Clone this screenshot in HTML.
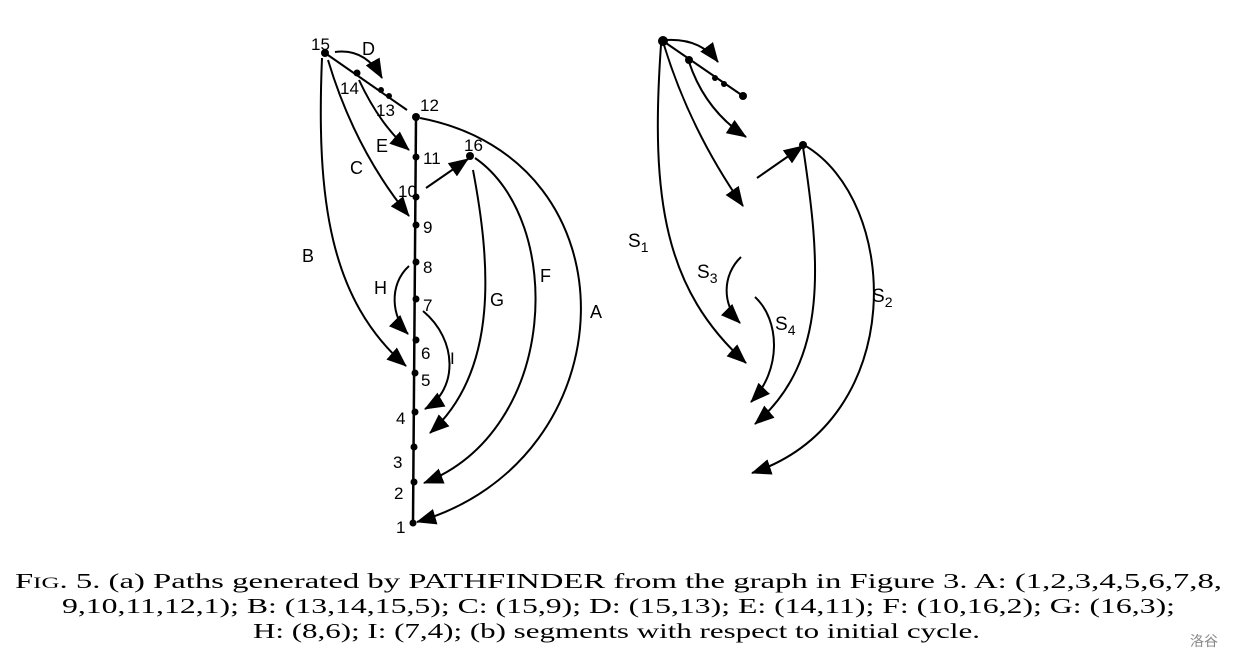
<!DOCTYPE html>
<html><head><meta charset="utf-8"><style>
html,body{margin:0;padding:0;background:#fff;}
svg{display:block;}
text{font-family:"Liberation Sans",sans-serif;}
.cap text{font-family:"Liberation Serif",serif;font-size:21px;}
</style></head><body>
<svg width="1236" height="668" viewBox="0 0 1236 668" xmlns="http://www.w3.org/2000/svg">
<defs>
<marker id="ah" markerUnits="userSpaceOnUse" markerWidth="21" markerHeight="16" refX="19" refY="8" orient="auto">
<path d="M0,0 L20,8 L0,16 Z" fill="#000"/></marker>
</defs>
<g stroke="#000" stroke-width="2" fill="none">
<line x1="416" y1="117" x2="413" y2="523" stroke-width="2.5"/>
<line x1="407" y1="110" x2="325" y2="53"/>
<path d="M335,52 Q365,48 382,78" marker-end="url(#ah)"/>
<path d="M359,80 Q380,125 409,150" marker-end="url(#ah)"/>
<path d="M328,60 Q355,150 409,216" marker-end="url(#ah)"/>
<path d="M322,58 C316,200 330,300 406,366" marker-end="url(#ah)"/>
<path d="M420,118 C640,160 630,460 417,522" marker-end="url(#ah)"/>
<path d="M475,158 C565,220 560,430 424,483" marker-end="url(#ah)"/>
<path d="M473,170 C490,260 500,370 430,433" marker-end="url(#ah)"/>
<path d="M426,188 L468,159" marker-end="url(#ah)"/>
<path d="M409,266 C388,285 392,318 408,334" marker-end="url(#ah)"/>
<path d="M423,311 C458,340 458,390 425,409" marker-end="url(#ah)"/>

<line x1="663" y1="41" x2="743" y2="96"/>
<path d="M666,40 Q700,38 718,62" marker-end="url(#ah)"/>
<path d="M689,62 Q705,110 746,137" marker-end="url(#ah)"/>
<path d="M664,45 Q690,130 743,206" marker-end="url(#ah)"/>
<path d="M661,45 C650,200 665,290 746,363" marker-end="url(#ah)"/>
<path d="M757,178 L803,146" marker-end="url(#ah)"/>
<path d="M803,147 C820,260 830,360 755,424" marker-end="url(#ah)"/>
<path d="M804,145 C900,200 910,420 752,473" marker-end="url(#ah)"/>
<path d="M755,297 C780,320 782,370 751,402" marker-end="url(#ah)"/>
<path d="M741,257 C722,275 722,305 740,323" marker-end="url(#ah)"/>
</g>
<g fill="#000">
<circle cx="325" cy="53" r="4"/><circle cx="357" cy="73" r="3.5"/><circle cx="381" cy="90" r="3"/><circle cx="389" cy="96" r="3"/>
<circle cx="416" cy="117" r="4"/><circle cx="416" cy="157" r="3.5"/><circle cx="416" cy="197" r="3.5"/><circle cx="416" cy="225" r="3.5"/>
<circle cx="416" cy="262" r="3.5"/><circle cx="416" cy="299" r="3.5"/><circle cx="416" cy="340" r="3.5"/><circle cx="415" cy="373" r="3.5"/>
<circle cx="415" cy="412" r="3.5"/><circle cx="414" cy="447" r="3.5"/><circle cx="414" cy="482" r="3.5"/><circle cx="413" cy="523" r="3.5"/>
<circle cx="470" cy="156" r="4"/>
<circle cx="663" cy="41" r="5"/><circle cx="689" cy="60" r="4"/><circle cx="715" cy="78" r="3"/><circle cx="724" cy="84" r="3"/><circle cx="743" cy="96" r="4"/>
<circle cx="803" cy="145" r="4"/>
</g>
<g font-size="17" fill="#000">
<text x="311" y="50">15</text><text x="362" y="55" font-size="18">D</text>
<text x="340" y="94">14</text><text x="376" y="116">13</text><text x="420" y="111">12</text>
<text x="376" y="152" font-size="18">E</text><text x="423" y="164">11</text><text x="350" y="174" font-size="18">C</text>
<text x="464" y="151">16</text><text x="398" y="197">10</text><text x="423" y="233">9</text>
<text x="302" y="262" font-size="18">B</text><text x="423" y="273">8</text><text x="374" y="294" font-size="18">H</text>
<text x="423" y="311">7</text><text x="490" y="306" font-size="18">G</text><text x="540" y="282" font-size="18">F</text>
<text x="590" y="318" font-size="18">A</text><text x="450" y="364">I</text><text x="421" y="359">6</text>
<text x="421" y="386">5</text><text x="396" y="424">4</text><text x="393" y="468">3</text><text x="394" y="499">2</text><text x="396" y="533">1</text>
<text x="628" y="247" font-size="19">S<tspan font-size="14" dy="5">1</tspan></text>
<text x="697" y="278" font-size="19">S<tspan font-size="14" dy="5">3</tspan></text>
<text x="775" y="330" font-size="19">S<tspan font-size="14" dy="5">4</tspan></text>
<text x="872" y="302" font-size="19">S<tspan font-size="14" dy="5">2</tspan></text>
</g>
<g class="cap" fill="#000">
<text x="15" y="588" textLength="1207" lengthAdjust="spacingAndGlyphs">F<tspan font-size="16">IG</tspan>. 5.   (a) Paths generated by PATHFINDER from the graph in Figure 3. A: (1,2,3,4,5,6,7,8,</text>
<text x="62" y="613" textLength="1113" lengthAdjust="spacingAndGlyphs">9,10,11,12,1); B: (13,14,15,5); C: (15,9); D: (15,13); E: (14,11); F: (10,16,2); G: (16,3);</text>
<text x="253" y="638" textLength="727" lengthAdjust="spacingAndGlyphs">H: (8,6); I: (7,4); (b) segments with respect to initial cycle.</text>
</g>
<text x="1190" y="646" font-size="14" fill="#888" style="font-family:'Liberation Sans','Noto Sans CJK SC',sans-serif">洛谷</text>
</svg>
</body></html>
